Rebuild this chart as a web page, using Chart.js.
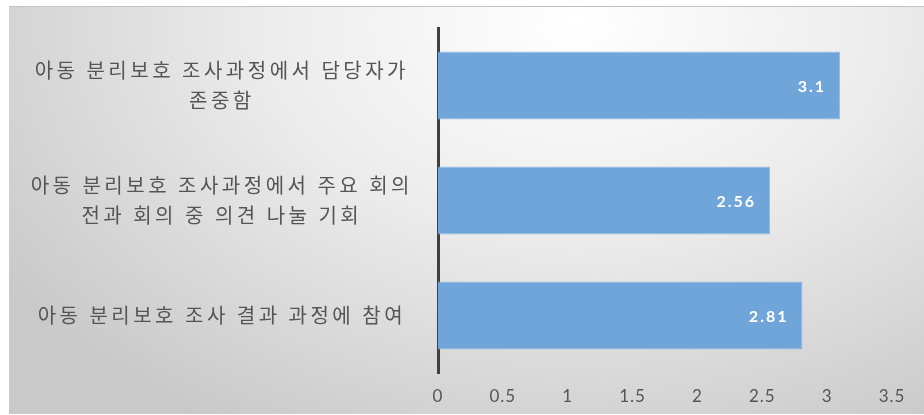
<!DOCTYPE html>
<html lang="ko">
<head>
<meta charset="utf-8">
<script src="https://cdn.jsdelivr.net/npm/chart.js@4"></script>
<style>
  html, body { margin: 0; padding: 0; background: #ffffff; }
  #frame {
    position: absolute;
    left: 9px;
    top: 6px;
    width: 915px;
    height: 407px;
    border-top: 1px solid #c4c4c4;
    background: radial-gradient(ellipse 75% 115% at 62% 4%, #ffffff 0%, #ececec 45%, #c9c9c9 100%);
  }
</style>
</head>
<body>
<div id="frame"><canvas id="myChart"></canvas></div>
<script>
// Categorias (eje Y) y valores de la serie
const categorias = [
    ["아동 분리보호 조사과정에서 담당자가", "존중함"],
    ["아동 분리보호 조사과정에서 주요 회의", "전과 회의 중 의견 나눌 기회"],
    ["아동 분리보호 조사 결과 과정에 참여"]
];
const valores = [3.1, 2.56, 2.81];
const ticksX = [0, 0.5, 1, 1.5, 2, 2.5, 3, 3.5];

const colorBarra = "#6fa5d8";
const colorTexto = "#555555";

// Espaciado de letras (la imagen original esta estirada a lo ancho)
const espaciado = {
    id: "espaciado",
    beforeLayout: (chart) => { chart.ctx.letterSpacing = "3.5px"; },
    beforeDraw: (chart) => { chart.ctx.letterSpacing = "3.5px"; },
    afterLayout: (chart) => {
        // el eje X usa menos espaciado
        const sx = chart.scales.x;
        if (sx._envuelto) return;
        const original = sx.drawLabels;
        sx.drawLabels = function (area) {
            this.ctx.save();
            this.ctx.letterSpacing = "1px";
            original.call(this, area);
            this.ctx.restore();
        };
        sx._envuelto = true;
    },
};

// Etiquetas de valor dentro del extremo de cada barra
const etiquetasValor = {
    id: "etiquetasValor",
    afterDatasetsDraw: (chart) => {
        const ctx = chart.ctx;
        const meta = chart.getDatasetMeta(0);
        ctx.save();
        ctx.letterSpacing = "2px";
        ctx.font = "bold 16px Lato";
        ctx.fillStyle = "#ffffff";
        ctx.textAlign = "right";
        ctx.textBaseline = "middle";
        meta.data.forEach((bar, i) => {
            ctx.fillText(String(valores[i]), bar.x - 14, bar.y + 1);
        });
        ctx.restore();
    },
};

const ctx = document.getElementById("myChart");
new Chart(ctx, {
    type: "bar",
    data: {
        labels: categorias,
        datasets: [
            {
                data: valores,
                backgroundColor: colorBarra,
                borderColor: "#8fbce4",
                borderWidth: 1,
                categoryPercentage: 1,
                barPercentage: 0.59,
            },
        ],
    },
    options: {
        indexAxis: "y",
        responsive: true,
        maintainAspectRatio: false,
        animation: false,
        layout: {
            padding: { top: 21, right: 32, bottom: 0, left: 0 },
        },
        scales: {
            x: {
                min: 0,
                max: 3.5,
                afterBuildTicks: (scale) => {
                    scale.ticks = ticksX.map((v) => ({ value: v }));
                },
                afterFit: (scale) => {
                    scale.height = 41;
                    scale.paddingLeft = 0;
                    scale.paddingRight = 0;
                },
                grid: { display: false },
                border: { display: false },
                ticks: {
                    color: colorTexto,
                    font: { family: "Lato", size: 17 },
                    padding: 5,
                    maxRotation: 0,
                    callback: (v) => String(v),
                },
            },
            y: {
                afterFit: (scale) => {
                    scale.width = 429;
                    scale.paddingTop = 0;
                    scale.paddingBottom = 0;
                },
                grid: { display: false },
                border: { display: true, color: "#404040", width: 3 },
                ticks: {
                    color: colorTexto,
                    font: { family: "'Noto Sans CJK KR'", size: 20, lineHeight: 1.5 },
                    crossAlign: "center",
                    padding: 17,
                },
            },
        },
        plugins: {
            legend: { display: false },
            tooltip: { enabled: false },
        },
    },
    plugins: [espaciado, etiquetasValor],
});
</script>
</body>
</html>
